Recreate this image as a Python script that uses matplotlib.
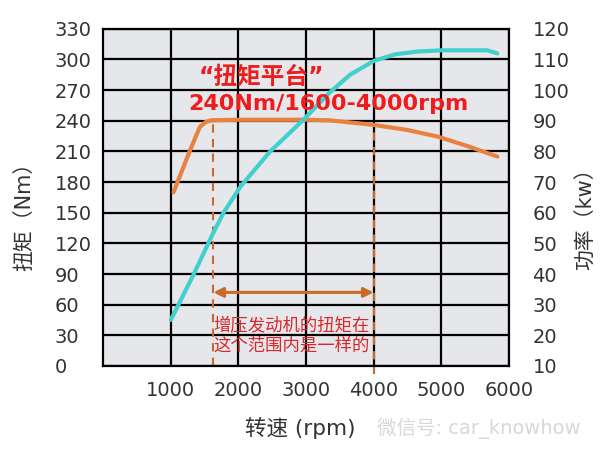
import matplotlib.pyplot as plt

plt.rcParams['font.family'] = ['DejaVu Sans', 'Noto Sans CJK SC']

# torque curve (Nm) vs engine speed
torque_rpm = [1040, 1290, 1430, 1520, 1600, 2000, 2500, 3000, 3340, 4000, 4500, 4950, 5400, 5830]
torque_nm = [170, 212, 234, 239, 240.5, 241, 241, 241, 240.5, 236, 231, 224.5, 215, 205]

# power curve (kW) vs engine speed
power_rpm = [1000, 1340, 1630, 1780, 2030, 2470, 2960, 3340, 3650, 4000, 4320, 4650, 5000, 5680, 5830]
power_kw = [25, 40, 53.5, 60, 68.5, 80, 90.3, 99, 105, 109.5, 111.7, 112.6, 113, 113, 112]

x_ticks = [1000, 2000, 3000, 4000, 5000, 6000]
torque_ticks = list(range(0, 331, 30))
power_ticks = list(range(10, 121, 10))

plateau_lo, plateau_hi = 1630, 4000
arrow_y = 72

fig = plt.figure(figsize=(6, 4.58), dpi=100)
ax = fig.add_axes([0.172, 0.201, 0.676, 0.736])
ax.set_facecolor('#e6e7ea')

ax.set_xlim(0, 6000)
ax.set_ylim(0, 330)
ax.set_xticks(x_ticks)
ax.set_yticks(torque_ticks)
ax.grid(True, color='black', lw=1.6)
ax.set_axisbelow(True)
for s in ax.spines.values():
    s.set_color('black')
    s.set_linewidth(1.6)
ax.tick_params(length=0, labelsize=14, colors='#333333')
ax.tick_params(axis='x', pad=11)
ax.tick_params(axis='y', pad=35)
for lab in ax.get_yticklabels():
    lab.set_horizontalalignment('left')

ax2 = ax.twinx()
ax2.set_ylim(10, 120)
ax2.set_yticks(power_ticks)
ax2.tick_params(length=0, labelsize=14, colors='#333333', pad=17)
for s in ax2.spines.values():
    s.set_visible(False)

ax.plot(torque_rpm, torque_nm, color='#e9813f', lw=3, solid_capstyle='round',
        solid_joinstyle='round', zorder=3)
ax2.plot(power_rpm, power_kw, color='#42d0cf', lw=3, solid_capstyle='round',
         solid_joinstyle='round', zorder=3)

# plateau markers
ax.plot([plateau_lo, plateau_lo], [0, 237], color='#c8692a', lw=1.5, ls=(0, (4, 3)), zorder=2)
ax.plot([plateau_hi, plateau_hi], [-8, 234], color='#c8692a', lw=1.5, ls=(0, (4, 3)),
        zorder=2, clip_on=False)
ax.annotate('', xy=(plateau_lo, arrow_y), xytext=(plateau_hi, arrow_y),
            arrowprops=dict(arrowstyle='<|-|>', color='#cc6a28', lw=2.2,
                            mutation_scale=14, shrinkA=0, shrinkB=0))

# red labels go on the top axes so they sit over the power curve
ax2.text(1410, 10 + 283 / 3, '“扭矩平台”', color='#ee1c1c', fontsize=17,
         fontweight='bold', va='center', ha='left', zorder=5)
ax2.text(1260, 10 + 256 / 3, '240Nm/1600-4000rpm', color='#ee1c1c', fontsize=16,
         fontweight='bold', va='center', ha='left', zorder=5)
ax.text(plateau_lo, 30, '增压发动机的扭矩在\n这个范围内是一样的', color='#d9262a',
        fontsize=12.5, va='center', ha='left', linespacing=1.2)

fig.text(0.040, 1 - 211 / 458, '扭矩（Nm）', rotation=90, fontsize=15, color='#333333',
         ha='center', va='center')
fig.text(0.977, 1 - 214 / 458, '功率（kw）', rotation=90, fontsize=15, color='#333333',
         ha='center', va='center')
fig.text(245 / 600, 0.065, '转速 (rpm)', fontsize=15.5, color='#333333', ha='left', va='center')
fig.text(377 / 600, 0.065, '微信号: car_knowhow', fontsize=14, color='#d8d8d8',
         ha='left', va='center')

fig.savefig('out.png', dpi=100)
